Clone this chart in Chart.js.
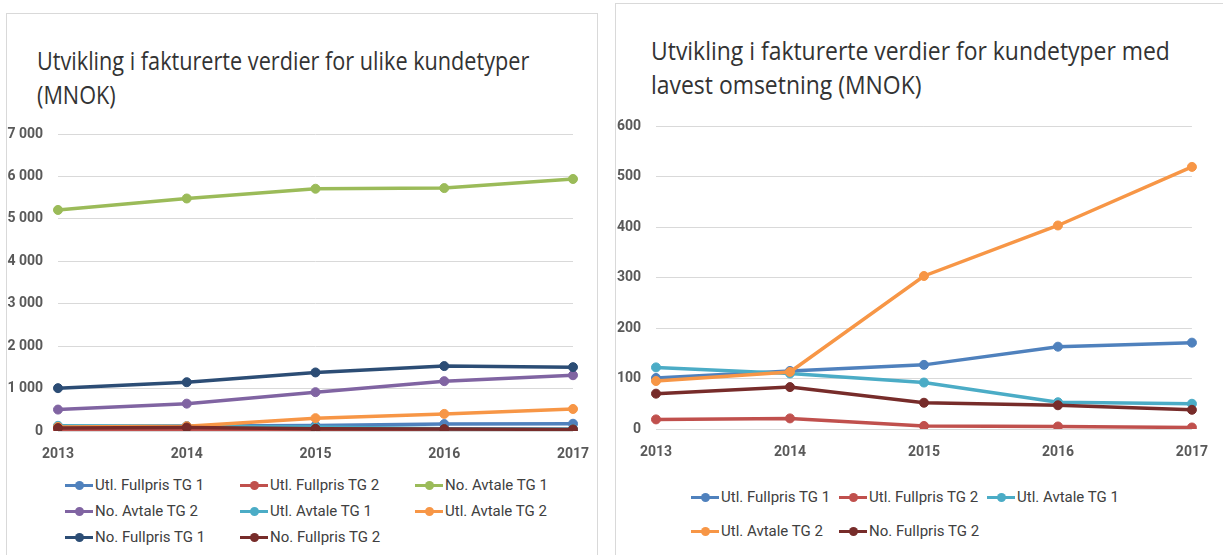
<!DOCTYPE html>
<html>
<head>
<meta charset="utf-8">
<script src="https://cdn.jsdelivr.net/npm/chart.js@4.4.0/dist/chart.umd.min.js"></script>
<style>
body{margin:0;background:#fff;width:1223px;height:555px;overflow:hidden;position:relative;font-family:Roboto,"Open Sans",sans-serif;}
.panel{position:absolute;border:1px solid #d9d9d9;background:#fff;}
#p1{left:6px;top:13px;width:590px;height:560px;}
#p2{left:615px;top:3px;width:620px;height:570px;}
.title{position:absolute;font-family:"Open Sans",sans-serif;font-size:25px;line-height:34px;color:#333;white-space:nowrap;transform-origin:0 0;}
canvas{position:absolute;}
.item{position:absolute;height:20px;display:flex;align-items:center;white-space:nowrap;font-size:15px;color:#404040;}
.sw{position:relative;width:28px;height:3px;margin-right:2px;}
.sw i{position:absolute;left:9.5px;top:-3px;width:9px;height:9px;border-radius:50%;}
</style>
</head>
<body>
<div class="panel" id="p1"></div>
<div class="panel" id="p2"></div>
<div class="title" style="left:37px;top:43px;transform:scaleX(0.866)">Utvikling i fakturerte verdier for ulike kundetyper<br>(MNOK)</div>
<div class="title" style="left:651px;top:33px;transform:scaleX(0.917)">Utvikling i fakturerte verdier for kundetyper med<br>lavest omsetning (MNOK)</div>
<div id="wrap1" style="position:absolute;left:0;top:100px;width:605px;height:370px"><canvas id="c1"></canvas></div>
<div id="wrap2" style="position:absolute;left:615px;top:90px;width:608px;height:380px"><canvas id="c2"></canvas></div>
<div id="leg1"></div>
<div id="leg2"></div>
<script>
const years = ["2013", "2014", "2015", "2016", "2017"];

// MNOK per year
const utlFullprisTG1 = [101, 115, 127, 163, 171];
const utlFullprisTG2 = [19, 21, 6, 5, 3];
const noAvtaleTG1 = [5210, 5480, 5710, 5725, 5940];
const noAvtaleTG2 = [505, 645, 915, 1175, 1315];
const utlAvtaleTG1 = [122, 110, 92, 53, 50];
const utlAvtaleTG2 = [95, 113, 303, 403, 519];
const noFullprisTG1 = [1010, 1150, 1380, 1530, 1505];
const noFullprisTG2 = [70, 83, 52, 47, 38];

const leftSeries = [
  ["Utl. Fullpris TG 1", utlFullprisTG1, "#4f81bd"],
  ["Utl. Fullpris TG 2", utlFullprisTG2, "#c0504d"],
  ["No. Avtale TG 1", noAvtaleTG1, "#9bbb59"],
  ["No. Avtale TG 2", noAvtaleTG2, "#8064a2"],
  ["Utl. Avtale TG 1", utlAvtaleTG1, "#4bacc6"],
  ["Utl. Avtale TG 2", utlAvtaleTG2, "#f79646"],
  ["No. Fullpris TG 1", noFullprisTG1, "#2c4d75"],
  ["No. Fullpris TG 2", noFullprisTG2, "#772c2a"]
];
const rightSeries = [
  ["Utl. Fullpris TG 1", utlFullprisTG1, "#4f81bd"],
  ["Utl. Fullpris TG 2", utlFullprisTG2, "#c0504d"],
  ["Utl. Avtale TG 1", utlAvtaleTG1, "#4bacc6"],
  ["Utl. Avtale TG 2", utlAvtaleTG2, "#f79646"],
  ["No. Fullpris TG 2", noFullprisTG2, "#772c2a"]
];

function fmt(v){
  return String(v).replace(/\B(?=(\d{3})+(?!\d))/g, " ");
}

const tickFont = {family: "Roboto", size: 14, weight: "bold"};

function makeChart(id, series, maxY, step, yWidth, pad){
  const n = series.length;
  return new Chart(id, {
    type: "line",
    data: {
      labels: years,
      datasets: series.map((s, i) => ({
        label: s[0],
        data: s[1],
        borderColor: s[2],
        backgroundColor: s[2],
        borderWidth: 3.5,
        pointRadius: 4.5,
        pointBorderWidth: 1,
        tension: 0,
        order: n - i
      }))
    },
    options: {
      responsive: true,
      maintainAspectRatio: false,
      animation: false,
      layout: {padding: pad},
      plugins: {legend: {display: false}, tooltip: {enabled: false}},
      scales: {
        x: {
          offset: false,
          grid: {display: false, drawTicks: false},
          border: {display: false},
          ticks: {padding: 15, color: "#595959", font: tickFont},
          afterFit: function(s){ s.height = 30; }
        },
        y: {
          min: 0, max: maxY,
          grid: {color: "#d9d9d9", lineWidth: 1, drawTicks: false},
          border: {display: false},
          ticks: {stepSize: step, padding: 15, color: "#595959", font: tickFont, callback: v => fmt(v)},
          afterFit: function(s){ s.width = yWidth; }
        }
      }
    }
  });
}

makeChart("c1", leftSeries, 7000, 1000, 58, {top: 34, right: 32, bottom: 9, left: 0});
makeChart("c2", rightSeries, 600, 100, 41, {top: 36, right: 18, bottom: 11, left: 0});

function legend(id, series, x0, y0, colW, rowH, cols){
  const box = document.getElementById(id);
  series.forEach((s, i) => {
    const el = document.createElement("div");
    el.className = "item";
    el.style.left = (x0 + (i % cols) * colW) + "px";
    el.style.top = (y0 + Math.floor(i / cols) * rowH - 10) + "px";
    el.innerHTML = '<span class="sw" style="background:' + s[2] + '"><i style="background:' + s[2] + '"></i></span>' + s[0];
    box.appendChild(el);
  });
}
legend("leg1", leftSeries, 65, 485, 175, 26, 3);
legend("leg2", rightSeries, 691, 497, 148, 34, 3);
</script>
</body>
</html>
